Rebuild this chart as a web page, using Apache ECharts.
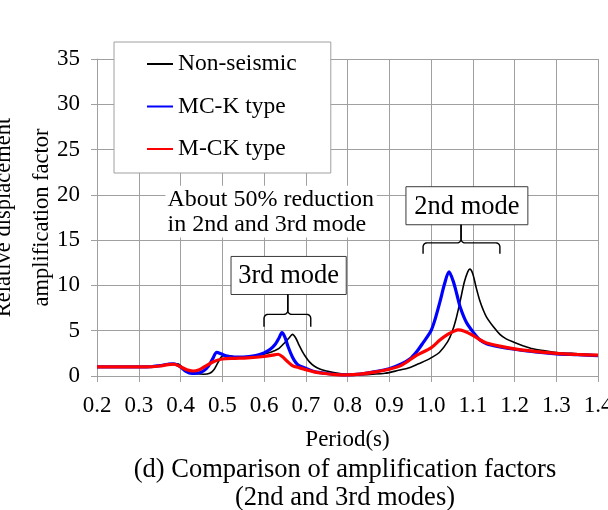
<!DOCTYPE html>
<html>
<head>
<meta charset="utf-8">
<script src="https://cdn.jsdelivr.net/npm/echarts@6/dist/echarts.min.js"></script>
<style>
  html, body { margin: 0; padding: 0; background: #fff; }
  #chart { width: 608px; height: 510px; }
</style>
</head>
<body>
<div id="chart"></div>
<script>
// Relative displacement amplification factor versus period, three damping layouts
const FONT = '"Liberation Serif", "Times New Roman", serif';

const periodTicks = [0.2, 0.3, 0.4, 0.5, 0.6, 0.7, 0.8, 0.9, 1.0, 1.1, 1.2, 1.3, 1.4];
const factorTicks = [0, 5, 10, 15, 20, 25, 30, 35];

// [period (s), amplification factor]
const nonSeismic = [
  [0.20, 1.0], [0.25, 1.0], [0.30, 1.0], [0.33, 1.02], [0.35, 1.12], [0.37, 1.28],
  [0.385, 1.38], [0.395, 1.32], [0.405, 0.95], [0.42, 0.45], [0.44, 0.25], [0.455, 0.2],
  [0.47, 0.3], [0.48, 0.7], [0.49, 1.5], [0.502, 2.25], [0.515, 2.25], [0.53, 2.1],
  [0.55, 2.05], [0.57, 2.1], [0.59, 2.3], [0.61, 2.55], [0.625, 2.8], [0.636, 3.05],
  [0.65, 3.7], [0.66, 4.2], [0.668, 4.6], [0.676, 4.2], [0.684, 3.4], [0.692, 2.7],
  [0.70, 2.1], [0.71, 1.5], [0.72, 1.1], [0.735, 0.75], [0.75, 0.55], [0.77, 0.35],
  [0.80, 0.18], [0.83, 0.13], [0.86, 0.2], [0.89, 0.3], [0.92, 0.6], [0.95, 0.95],
  [0.97, 1.35], [0.99, 1.75], [1.00, 2.0], [1.02, 2.6], [1.04, 3.8], [1.05, 4.8],
  [1.06, 6.3], [1.07, 8.3], [1.08, 10.4], [1.088, 11.5], [1.093, 11.8], [1.10, 11.3],
  [1.108, 9.8], [1.117, 8.3], [1.125, 7.3], [1.133, 6.5], [1.15, 5.4], [1.165, 4.6],
  [1.18, 4.1], [1.20, 3.7], [1.22, 3.35], [1.244, 3.0], [1.27, 2.8], [1.30, 2.6],
  [1.35, 2.45], [1.40, 2.3]
];

const mcKType = [
  [0.20, 1.0], [0.25, 1.0], [0.30, 1.0], [0.33, 1.02], [0.35, 1.15], [0.37, 1.3],
  [0.38, 1.35], [0.39, 1.28], [0.40, 1.0], [0.413, 0.5], [0.427, 0.28], [0.44, 0.3],
  [0.455, 0.55], [0.467, 1.1], [0.477, 1.9], [0.487, 2.6], [0.497, 2.45], [0.51, 2.2],
  [0.53, 2.1], [0.55, 2.1], [0.58, 2.25], [0.60, 2.55], [0.615, 2.95], [0.627, 3.5],
  [0.636, 4.2], [0.643, 4.8], [0.65, 4.3], [0.658, 3.2], [0.668, 2.1], [0.676, 1.5],
  [0.684, 1.15], [0.70, 0.85], [0.72, 0.5], [0.75, 0.28], [0.78, 0.15], [0.80, 0.12],
  [0.83, 0.2], [0.86, 0.42], [0.90, 0.8], [0.93, 1.35], [0.95, 1.9], [0.966, 2.7],
  [0.98, 3.6], [1.00, 5.0], [1.01, 6.3], [1.022, 8.3], [1.032, 10.1], [1.043, 11.5],
  [1.053, 10.5], [1.062, 9.0], [1.07, 7.6], [1.085, 5.9], [1.10, 4.9], [1.117, 4.0],
  [1.133, 3.55], [1.15, 3.35], [1.165, 3.2], [1.20, 2.95], [1.25, 2.65], [1.30, 2.45],
  [1.35, 2.35], [1.40, 2.25]
];

const mCkType = [
  [0.20, 1.0], [0.25, 1.0], [0.30, 1.0], [0.33, 1.02], [0.35, 1.1], [0.37, 1.25],
  [0.385, 1.3], [0.40, 1.02], [0.415, 0.68], [0.43, 0.55], [0.445, 0.7], [0.46, 1.1],
  [0.48, 1.6], [0.50, 1.88], [0.53, 1.95], [0.56, 2.0], [0.60, 2.15], [0.62, 2.3],
  [0.634, 2.4], [0.645, 2.1], [0.655, 1.65], [0.668, 1.15], [0.685, 0.9], [0.70, 0.7],
  [0.72, 0.45], [0.74, 0.3], [0.77, 0.16], [0.80, 0.12], [0.83, 0.2], [0.86, 0.4],
  [0.90, 0.75], [0.93, 1.2], [0.966, 2.3], [1.00, 3.1], [1.022, 4.0], [1.04, 4.6],
  [1.053, 4.9], [1.065, 5.1], [1.08, 4.95], [1.10, 4.5], [1.117, 4.0], [1.133, 3.65],
  [1.165, 3.3], [1.20, 3.0], [1.233, 2.8], [1.30, 2.5], [1.35, 2.38], [1.40, 2.3]
];

const seriesNames = ['Non-seismic', 'MC-K type', 'M-CK type'];
const seriesColors = ['#000000', '#0000ff', '#ff0000'];
const seriesWidths = [1.6, 3.2, 3.2];
const seriesData = [nonSeismic, mcKType, mCkType];

const chart = echarts.init(document.getElementById('chart'), null, { renderer: 'canvas' });

const gridColor = '#a0a0a0';

chart.setOption({
  animation: false,
  backgroundColor: '#ffffff',
  textStyle: { fontFamily: FONT },
  grid: { left: 97, right: 10, top: 59, bottom: 134, outerBoundsMode: 'none', containLabel: false },
  legend: {
    orient: 'vertical',
    left: 114,
    top: 42,
    padding: [10, 34, 12, 32],
    itemGap: 18.5,
    itemWidth: 26,
    itemHeight: 14,
    backgroundColor: '#ffffff',
    borderColor: '#a0a0a0',
    borderWidth: 1,
    borderRadius: 0,
    itemStyle: { opacity: 0 },
    textStyle: { fontFamily: FONT, fontSize: 23.5, color: '#000', lineHeight: 22 },
    data: seriesNames
  },
  xAxis: {
    type: 'value',
    min: periodTicks[0],
    max: periodTicks[periodTicks.length - 1],
    interval: 0.1,
    name: 'Period(s)',
    nameLocation: 'middle',
    nameGap: 52,
    nameTextStyle: { fontFamily: FONT, fontSize: 23, color: '#000' },
    axisLine: { lineStyle: { color: gridColor, width: 1 } },
    axisTick: { show: true, length: 6, lineStyle: { color: gridColor } },
    axisLabel: {
      fontFamily: FONT, fontSize: 23, color: '#000', margin: 18,
      formatter: v => v.toFixed(1)
    },
    splitLine: { show: true, lineStyle: { color: gridColor, width: 1 } }
  },
  yAxis: {
    type: 'value',
    min: factorTicks[0],
    max: factorTicks[factorTicks.length - 1],
    interval: 5,
    axisLine: { show: true, lineStyle: { color: gridColor, width: 1 } },
    axisTick: { show: true, length: 6, lineStyle: { color: gridColor } },
    axisLabel: { fontFamily: FONT, fontSize: 23, color: '#000', margin: 17 },
    splitLine: { show: true, lineStyle: { color: gridColor, width: 1 } }
  },
  series: seriesNames.map((name, i) => ({
    name,
    type: 'line',
    data: seriesData[i],
    showSymbol: false,
    symbol: 'none',
    smooth: 0.3,
    z: 2 + i,
    lineStyle: { color: seriesColors[i], width: seriesWidths[i] },
    itemStyle: { color: seriesColors[i] }
  }))
});

// Annotation placement in (period, factor) coordinates
const px = (t, v) => chart.convertToPixel({ gridIndex: 0 }, [t, v]);

// arc points from angle a0 to a1 around (cx, cy)
function arc(cx, cy, r, a0, a1) {
  const pts = [];
  for (let k = 0; k <= 6; k++) {
    const a = a0 + (a1 - a0) * k / 6;
    pts.push([cx + r * Math.cos(a), cy + r * Math.sin(a)]);
  }
  return pts;
}

function braceShapes(tl, tm, tr, vTop, vH, vB) {
  const [xl, yB] = px(tl, vB);
  const [xm, yTop] = px(tm, vTop);
  const [xr] = px(tr, vB);
  const yH = px(tm, vH)[1];
  const r = 4;
  const P = Math.PI;
  const left = [[xl, yB]]
    .concat(arc(xl + r, yH + r, r, P, 1.5 * P))
    .concat(arc(xm - r, yH - r, r, 0.5 * P, 0))
    .concat([[xm, yTop]]);
  const right = [[xr, yB]]
    .concat(arc(xr - r, yH + r, r, 0, -0.5 * P))
    .concat(arc(xm + r, yH - r, r, 0.5 * P, P))
    .concat([[xm, yTop]]);
  const style = { stroke: '#000', lineWidth: 1.4, fill: null };
  return [
    { type: 'polyline', z: 11, shape: { points: left }, style },
    { type: 'polyline', z: 11, shape: { points: right }, style }
  ];
}

function labelBox(t0, t1, v0, v1, text) {
  const [x0, y0] = px(t0, v0);
  const [x1, y1] = px(t1, v1);
  return [
    { type: 'rect', z: 10, shape: { x: x0, y: y0, width: x1 - x0, height: y1 - y0 },
      style: { fill: '#fff', stroke: '#3a3a3a', lineWidth: 1 } },
    { type: 'text', z: 11, x: (x0 + x1) / 2, y: (y0 + y1) / 2 + 1,
      style: { text, fontFamily: FONT, fontSize: 26.5, fill: '#000', align: 'center', verticalAlign: 'middle' } }
  ];
}

const [n0x, n0y] = px(0.364, 21.0);
const [n1x, n1y] = px(0.870, 15.3);
const yMid = px(0.2, 17.5)[1];

const graphics = [
  // vertical axis title, two lines, reading upward
  { type: 'text', z: 11, x: 23, y: yMid, rotation: Math.PI / 2,
    style: { text: 'Relative displacement\namplification factor', fontFamily: FONT, fontSize: 22.5,
             lineHeight: 38, fill: '#000', align: 'center', verticalAlign: 'middle' } },
  // note without frame, on white
  { type: 'rect', z: 10, shape: { x: n0x, y: n0y, width: n1x - n0x, height: n1y - n0y },
    style: { fill: '#fff' } },
  { type: 'text', z: 11, x: n0x + 2, y: n0y + 1,
    style: { text: 'About 50% reduction\nin 2nd and 3rd mode', fontFamily: FONT, fontSize: 24,
             lineHeight: 25, fill: '#000', align: 'left', verticalAlign: 'top' } },
  ...labelBox(0.521, 0.797, 13.2, 9.0, '3rd mode'),
  ...braceShapes(0.600, 0.657, 0.712, 9.0, 6.8, 5.45),
  ...labelBox(0.940, 1.232, 20.9, 16.7, '2nd mode'),
  ...braceShapes(0.981, 1.072, 1.165, 16.7, 14.7, 13.5),
  // caption
  { type: 'text', z: 11, x: 345, y: 470,
    style: { text: '(d) Comparison of amplification factors', fontFamily: FONT, fontSize: 26.5,
             fill: '#000', align: 'center', verticalAlign: 'middle' } },
  { type: 'text', z: 11, x: 345, y: 498,
    style: { text: '(2nd and 3rd modes)', fontFamily: FONT, fontSize: 26.5,
             fill: '#000', align: 'center', verticalAlign: 'middle' } }
];

chart.setOption({ graphic: graphics });
</script>
</body>
</html>
